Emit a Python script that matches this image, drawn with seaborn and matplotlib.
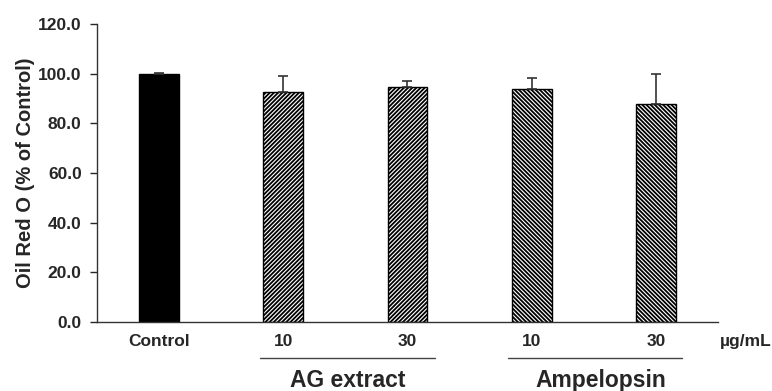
import matplotlib
matplotlib.use("Agg")
import matplotlib.pyplot as plt
import seaborn as sns
import pandas as pd
import numpy as np

# data
groups = ["Control", "AG 10", "AG 30", "Amp 10", "Amp 30"]
tick_labels = ["Control", "10", "30", "10", "30"]
values = [100.0, 92.6, 94.8, 93.9, 87.8]
errors = [0.3, 6.3, 2.3, 4.4, 12.2]
hatches = ["", "////////", "////////", "\\\\\\\\\\\\\\\\", "\\\\\\\\\\\\\\\\"]
fills = ["black", "white", "white", "white", "white"]

sns.set_style("ticks")
plt.rcParams["font.family"] = ["Liberation Sans", "DejaVu Sans"]
plt.rcParams["font.weight"] = "bold"
plt.rcParams["hatch.linewidth"] = 1.3

df = pd.DataFrame({"group": groups, "value": values})

fig = plt.figure(figsize=(7.72, 3.91), dpi=100)
ax = fig.add_axes([0.1256, 0.1765, 0.8044, 0.7621])

sns.barplot(data=df, x="group", y="value", order=groups, width=0.32,
            errorbar=None, ax=ax, color="white", edgecolor="black",
            linewidth=1.0)
for patch, h, c in zip(ax.patches, hatches, fills):
    patch.set_facecolor(c)
    patch.set_hatch(h)

xpos = np.arange(len(groups))
ax.errorbar(xpos, values, yerr=[np.zeros(len(errors)), errors], fmt="none",
            ecolor="#333333", elinewidth=1.2, capsize=3.5, capthick=1.2)

ax.set_xlim(-0.5, 4.5)
ax.set_ylim(0, 120)
ax.set_yticks(np.arange(0, 121, 20))
ax.set_yticklabels([f"{v:.1f}" for v in np.arange(0, 121, 20)],
                   fontsize=12.5, fontweight="bold")
ax.set_xticks(xpos)
ax.set_xticklabels(tick_labels, fontsize=12.5, fontweight="bold")
ax.tick_params(axis="x", length=0, pad=9)
ax.tick_params(axis="y", length=5, width=1, direction="out", pad=6)
ax.set_xlabel("")
ax.set_ylabel("Oil Red O (% of Control)", fontsize=14.5, fontweight="bold",
              labelpad=2)
sns.despine(ax=ax)
for s in ["left", "bottom"]:
    ax.spines[s].set_linewidth(1.0)
    ax.spines[s].set_color("#333333")

tr = ax.get_xaxis_transform()
for x0, x1, lab, xc in [(0.81, 2.22, "AG extract", 1.52),
                        (2.81, 4.21, "Ampelopsin", 3.56)]:
    ax.plot([x0, x1], [-0.121, -0.121], transform=tr, color="#444444",
            lw=1.0, clip_on=False)
    ax.text(xc, -0.195, lab, transform=tr, ha="center", va="center",
            fontsize=16.5, fontweight="bold")
ax.text(4.72, -0.067, "µg/mL", transform=tr, ha="center", va="center",
        fontsize=12.5, fontweight="bold")

fig.savefig("out.png", dpi=100)
